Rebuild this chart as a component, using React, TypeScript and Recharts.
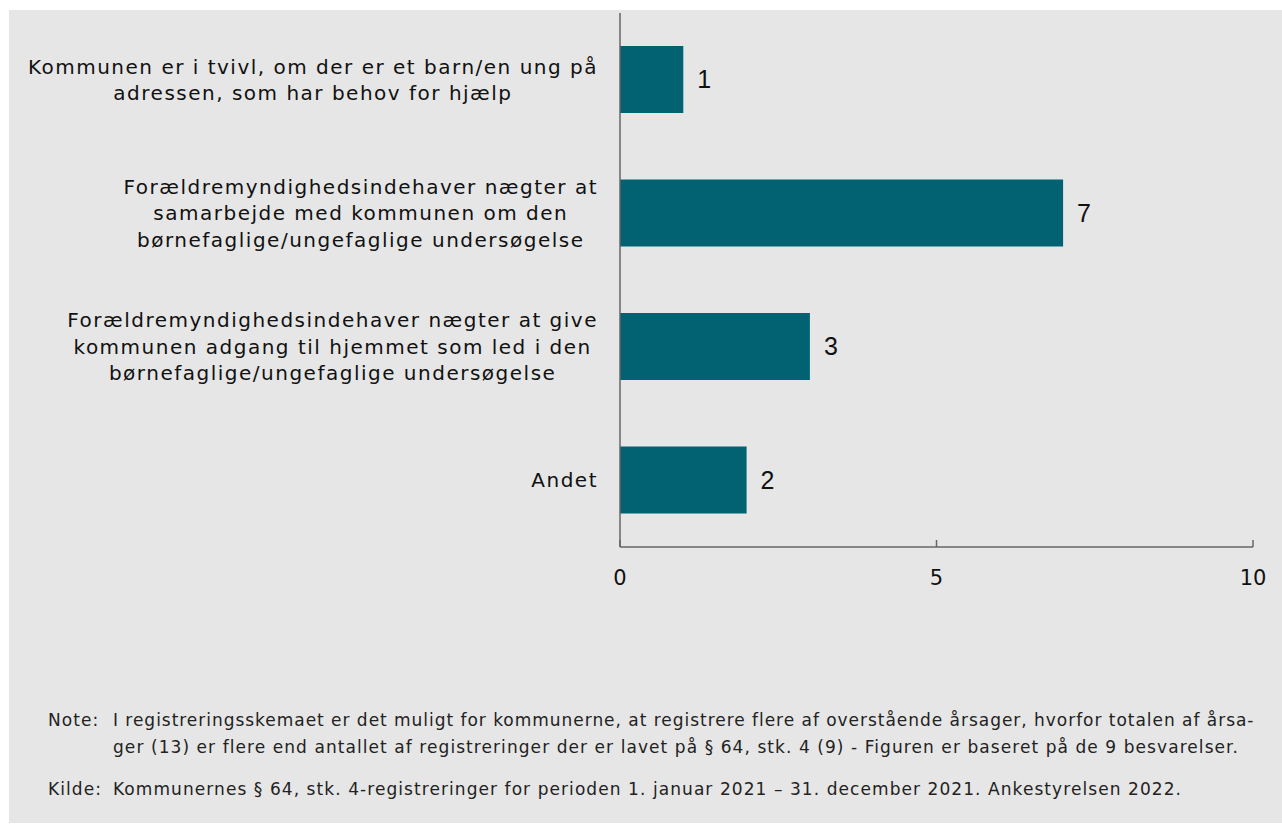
import { BarChart, Bar, XAxis, YAxis, LabelList } from 'recharts';

const categories = [
  'Kommunen er i tvivl, om der er et barn/en ung på\nadressen, som har behov for hjælp',
  'Forældremyndighedsindehaver nægter at\nsamarbejde med kommunen om den\nbørnefaglige/ungefaglige undersøgelse',
  'Forældremyndighedsindehaver nægter at give\nkommunen adgang til hjemmet som led i den\nbørnefaglige/ungefaglige undersøgelse',
  'Andet',
];
const values = [1, 7, 3, 2];
const xTicks = [0, 5, 10];

const noteLines = [
  'I registreringsskemaet er det muligt for kommunerne, at registrere flere af overstående årsager, hvorfor totalen af årsa-',
  'ger (13) er flere end antallet af registreringer der er lavet på § 64, stk. 4 (9) - Figuren er baseret på de 9 besvarelser.',
];
const sourceText = 'Kommunernes § 64, stk. 4-registreringer for perioden 1. januar 2021 – 31. december 2021. Ankestyrelsen 2022.';

const data = categories.map((name, i) => ({ name, value: values[i] }));

const FONT = '"DejaVu Sans", Verdana, sans-serif';
const LABEL_SIZE = 20;
const LABEL_LS = 1.5;
const LINE_H = 26.5;

let ctx: CanvasRenderingContext2D | null = null;
function textWidth(s: string) {
  if (!ctx) ctx = document.createElement('canvas').getContext('2d');
  if (!ctx) return s.length * 12;
  ctx.font = `${LABEL_SIZE}px ${FONT}`;
  return ctx.measureText(s).width + LABEL_LS * s.length;
}

function CategoryTick(props: any) {
  const { x, y, payload } = props;
  const lines = String(payload.value).split('\n');
  const maxW = Math.max(...lines.map(textWidth));
  const cx = x - 14 - maxW / 2;
  return (
    <text textAnchor="middle" fontFamily={FONT} fontSize={LABEL_SIZE} fill="#111" letterSpacing={LABEL_LS}>
      {lines.map((l, i) => (
        <tspan key={i} x={cx} y={y + (i - (lines.length - 1) / 2) * LINE_H + 7}>{l}</tspan>
      ))}
    </text>
  );
}

function ValueTick(props: any) {
  const { x, y, payload } = props;
  return (
    <g>
      <line x1={x} x2={x} y1={y} y2={y - 7} stroke="#666" strokeWidth={1.5} />
      <text x={x} y={y + 38} textAnchor="middle" fontFamily={FONT} fontSize={21} fill="#111">
        {payload.value}
      </text>
    </g>
  );
}

export default function App() {
  return (
    <div style={{ position: 'absolute', left: 9, top: 10, width: 1273, height: 813, background: '#e6e6e6' }}>
      <BarChart
        width={1273}
        height={620}
        data={data}
        layout="vertical"
        margin={{ top: 3, right: 29, bottom: 23, left: 0 }}
      >
        <XAxis
          type="number"
          domain={[0, 10]}
          ticks={xTicks}
          tick={<ValueTick />}
          tickSize={0}
          tickMargin={0}
          tickLine={false}
          axisLine={{ stroke: '#666', strokeWidth: 1.5 }}
          height={60}
          interval={0}
        />
        <YAxis
          type="category"
          dataKey="name"
          width={611}
          tick={<CategoryTick />}
          tickLine={false}
          axisLine={{ stroke: '#666', strokeWidth: 1.5 }}
          interval={0}
        />
        <Bar dataKey="value" fill="#026272" barSize={67} isAnimationActive={false}>
          <LabelList
            dataKey="value"
            position="right"
            offset={14}
            style={{ fontFamily: '"Liberation Sans", Arial, sans-serif', fontSize: 25, fill: '#111' }}
          />
        </Bar>
      </BarChart>
      <div style={{ fontFamily: FONT, fontSize: 17, letterSpacing: 1.07, color: '#222', lineHeight: '27px', position: 'absolute', left: 39, top: 697, whiteSpace: 'nowrap' }}>
        <div style={{ display: 'flex' }}>
          <span style={{ width: 65 }}>Note:</span>
          <span>
            {noteLines.map((l, i) => (
              <div key={i} style={i === 0 ? { letterSpacing: 0.97 } : undefined}>{l}</div>
            ))}
          </span>
        </div>
        <div style={{ display: 'flex', marginTop: 15 }}>
          <span style={{ width: 65 }}>Kilde:</span>
          <span>{sourceText}</span>
        </div>
      </div>
    </div>
  );
}
